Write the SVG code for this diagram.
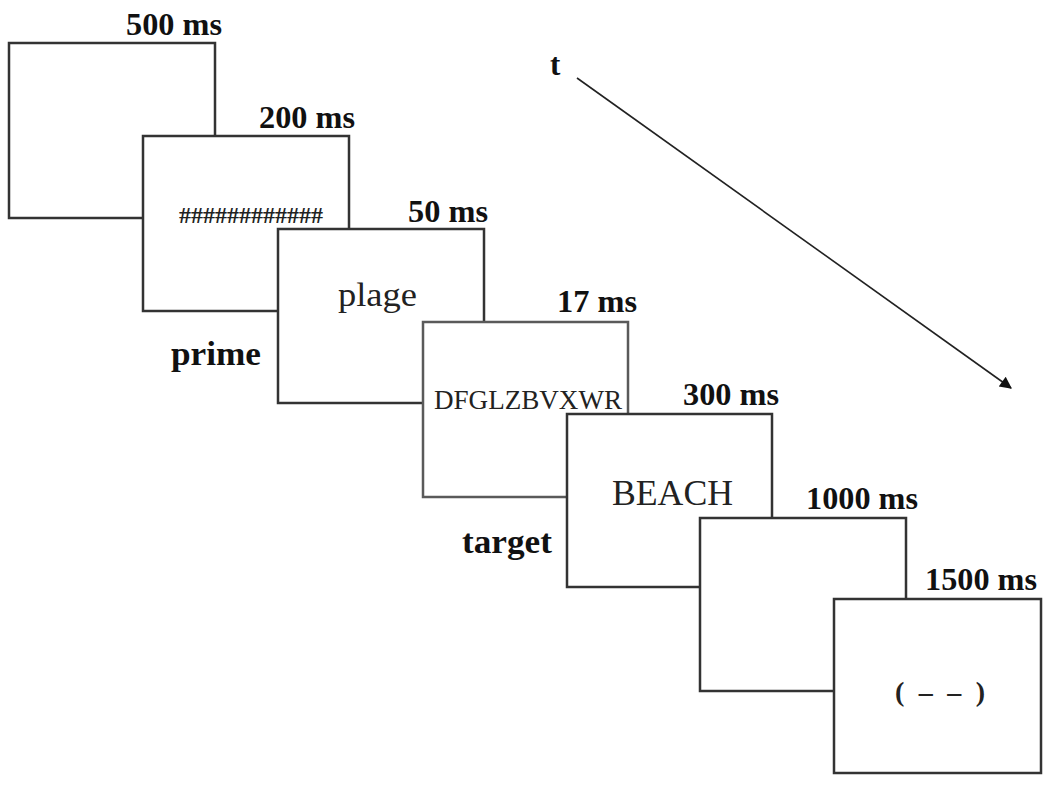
<svg xmlns="http://www.w3.org/2000/svg" width="1050" height="790" viewBox="0 0 1050 790">
<defs>
<style>
.box{fill:#fff;stroke:#333;stroke-width:2.5}
.gray{stroke:#5a5a5a}
.lab{font-family:"Liberation Serif","Times New Roman",serif;font-weight:bold;font-size:31px;fill:#111}
.big{font-family:"Liberation Serif","Times New Roman",serif;font-weight:bold;font-size:34px;fill:#111}
.in{font-family:"Liberation Serif","Times New Roman",serif;fill:#222}
</style>
<marker id="ah" viewBox="0 0 10 10" refX="9" refY="5" markerWidth="16" markerHeight="12" orient="auto" markerUnits="userSpaceOnUse">
<path d="M0,0 L10,5 L0,10 z" fill="#111"/>
</marker>
</defs>
<rect width="1050" height="790" fill="#fff"/>
<g id="frame1">
<rect class="box" x="9" y="43" width="206" height="175"/>
<text class="lab" x="126" y="35" textLength="96" lengthAdjust="spacingAndGlyphs">500 ms</text>
</g>
<g id="frame2">
<rect class="box" x="143" y="136" width="206" height="175"/>
<text class="lab" x="259" y="128" textLength="96" lengthAdjust="spacingAndGlyphs">200 ms</text>
<text class="in" x="179" y="223" font-size="24" font-weight="bold" textLength="144" lengthAdjust="spacingAndGlyphs">############</text>
</g>
<g id="frame3">
<rect class="box" x="278" y="229" width="206" height="174"/>
<text class="lab" x="408" y="222" textLength="80" lengthAdjust="spacingAndGlyphs">50 ms</text>
<text class="in" x="338" y="306" font-size="34" textLength="79" lengthAdjust="spacingAndGlyphs">plage</text>
</g>
<g id="prime-label">
<text class="big" x="171" y="365" textLength="90" lengthAdjust="spacingAndGlyphs">prime</text>
</g>
<g id="frame4">
<rect class="box gray" x="423" y="322" width="205" height="175"/>
<text class="lab" x="557" y="312" textLength="80" lengthAdjust="spacingAndGlyphs">17 ms</text>
<text class="in" x="434" y="409" font-size="27" textLength="188" lengthAdjust="spacingAndGlyphs">DFGLZBVXWR</text>
</g>
<g id="frame5">
<rect class="box" x="567" y="414" width="205" height="173"/>
<text class="lab" x="683" y="405" textLength="96" lengthAdjust="spacingAndGlyphs">300 ms</text>
<text class="in" x="612" y="505" font-size="35" textLength="121" lengthAdjust="spacingAndGlyphs">BEACH</text>
</g>
<g id="target-label">
<text class="big" x="462" y="553" textLength="90" lengthAdjust="spacingAndGlyphs">target</text>
</g>
<g id="frame6">
<rect class="box" x="700" y="518" width="206" height="173"/>
<text class="lab" x="806" y="509" textLength="112" lengthAdjust="spacingAndGlyphs">1000 ms</text>
</g>
<g id="frame7">
<rect class="box" x="834" y="599" width="207" height="174"/>
<text class="lab" x="925" y="590" textLength="112" lengthAdjust="spacingAndGlyphs">1500 ms</text>
<text class="in" x="895" y="701" font-size="28" font-weight="bold" textLength="90" lengthAdjust="spacing">( – – )</text>
</g>
<g id="connectors">
<text class="lab" x="550" y="75" font-size="32">t</text>
<line x1="577" y1="78" x2="1011" y2="388" stroke="#222" stroke-width="1.6" marker-end="url(#ah)"/>
</g>
</svg>
